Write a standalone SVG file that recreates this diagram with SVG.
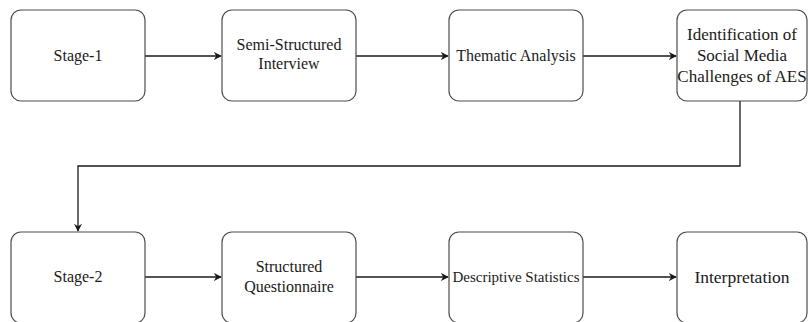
<svg xmlns="http://www.w3.org/2000/svg" width="808" height="322" viewBox="0 0 808 322">
<defs>
<style>
.box{fill:#fff;stroke:#4d4d4d;stroke-width:1.2}
.t{font-family:"Liberation Serif","Times New Roman",serif;font-size:16px;fill:#1a1a1a;text-anchor:middle}
.c{fill:none;stroke:#1a1a1a;stroke-width:1.3}
</style>
<marker id="arr" viewBox="0 0 10 10" refX="9" refY="5" markerWidth="8" markerHeight="8" markerUnits="userSpaceOnUse" orient="auto">
<path d="M0,0 L10,5 L0,10 L3,5 Z" fill="#1a1a1a"/>
</marker>
</defs>
<rect width="808" height="322" fill="#fff"/>
<g id="connectors">
<path class="c" d="M145,56 H221" marker-end="url(#arr)"/>
<path class="c" d="M356,56 H448" marker-end="url(#arr)"/>
<path class="c" d="M583,56 H676" marker-end="url(#arr)"/>
<path class="c" d="M740,101 V166 H78 V231" marker-end="url(#arr)"/>
<path class="c" d="M145,277 H221" marker-end="url(#arr)"/>
<path class="c" d="M356,277 H448" marker-end="url(#arr)"/>
<path class="c" d="M583,277 H676" marker-end="url(#arr)"/>
</g>
<g id="stage1"><rect class="box" x="11" y="10" width="134" height="91" rx="10"/><text class="t" x="78" y="61">Stage-1</text></g>
<g id="interview"><rect class="box" x="222" y="10" width="134" height="91" rx="10"/><text class="t" x="289" y="50">Semi-Structured</text><text class="t" x="289" y="69">Interview</text></g>
<g id="thematic"><rect class="box" x="449" y="10" width="134" height="91" rx="10"/><text class="t" x="516" y="61">Thematic Analysis</text></g>
<g id="identification"><rect class="box" x="677" y="10" width="130" height="91" rx="10"/><text class="t" x="742" y="40" style="font-size:17px">Identification of</text><text class="t" x="742" y="61" style="font-size:17px">Social Media</text><text class="t" x="742" y="82" style="font-size:17px">Challenges of AES</text></g>
<g id="stage2"><rect class="box" x="11" y="232" width="134" height="91" rx="10"/><text class="t" x="78" y="282">Stage-2</text></g>
<g id="questionnaire"><rect class="box" x="222" y="232" width="134" height="91" rx="10"/><text class="t" x="289" y="272">Structured</text><text class="t" x="289" y="292">Questionnaire</text></g>
<g id="descriptive"><rect class="box" x="449" y="232" width="134" height="91" rx="10"/><text class="t" x="516" y="282" style="font-size:15px">Descriptive Statistics</text></g>
<g id="interpretation"><rect class="box" x="677" y="232" width="130" height="91" rx="10"/><text class="t" x="742" y="283" style="font-size:17.5px">Interpretation</text></g>
</svg>
